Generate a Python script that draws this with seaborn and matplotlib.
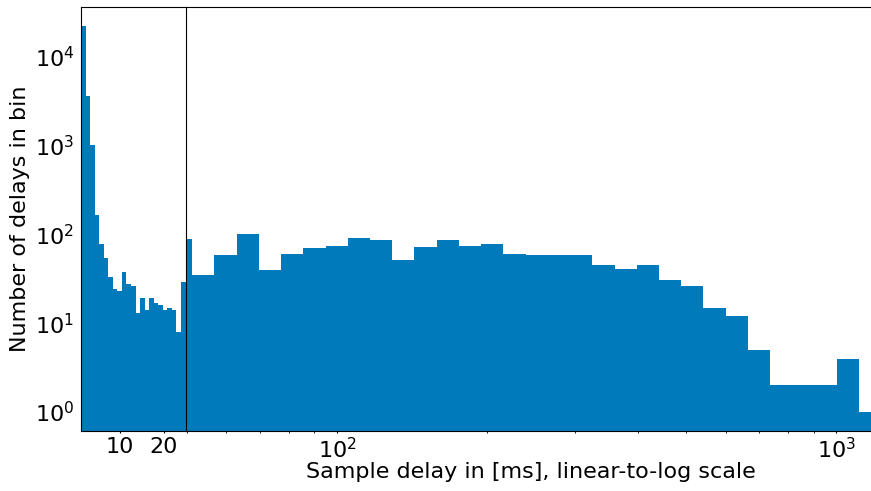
import numpy as np
import pandas as pd
import matplotlib
matplotlib.use("Agg")
import matplotlib.pyplot as plt
import seaborn as sns

# Histogram bin layout: linear ~1 ms bins up to 25 ms, then log-spaced bins
lin_start, lin_stop, lin_nbins = 1.0, 25.0, 23
log_start, log_stop, log_nbins = 25.0, 1230.0, 38
log_first_shown = 6          # log bins below ~46 ms fall outside the log panel

# Counts per bin
lin_counts = [22300, 3640, 1030, 167, 78, 55, 33, 24, 23, 38, 28, 26,
              13, 19, 14, 19, 17, 16, 14, 15, 14, 8, 29]
log_counts = [88, 35, 59, 102, 40, 60, 71, 74, 91, 86, 52, 73, 87, 74,
              78, 60, 59, 58, 58, 45, 41, 45, 31, 26, 15, 12, 5, 2, 2, 2,
              4, 1]

lin_ticks = [10, 20]
lin_xlim = (1.0, 25.0)
log_xlim = (49.7, 1200.0)
ylim = (0.61, 36600)

bar_color = "#007abb"
fs = 16

lin_edges = np.linspace(lin_start, lin_stop, lin_nbins + 1)
log_edges = np.geomspace(log_start, log_stop, log_nbins + 1)[log_first_shown:]
lin_df = pd.DataFrame({
    "delay": 0.5 * (lin_edges[:-1] + lin_edges[1:]),
    "count": lin_counts,
})
log_df = pd.DataFrame({
    "delay": np.sqrt(log_edges[:-1] * log_edges[1:]),
    "count": log_counts,
})

fig = plt.figure(figsize=(8.71, 4.91), dpi=100)
bottom, height = 60 / 491, 424 / 491
ax_lin = fig.add_axes([81 / 871, bottom, 104.5 / 871, height])
ax_log = fig.add_axes([185.5 / 871, bottom, 690.5 / 871, height], sharey=ax_lin)

hist_kws = dict(element="step", fill=True, color=bar_color, alpha=1,
                linewidth=0)
sns.histplot(data=lin_df, x="delay", weights="count", bins=lin_edges.tolist(),
             ax=ax_lin, **hist_kws)
sns.histplot(data=log_df, x="delay", weights="count", bins=log_edges.tolist(),
             ax=ax_log, **hist_kws)

# Linear part
ax_lin.set_yscale("log")
ax_lin.set_ylim(*ylim)
ax_lin.set_xlim(*lin_xlim)
ax_lin.set_xticks(lin_ticks)
ax_lin.set_xticklabels([str(t) for t in lin_ticks])
ax_lin.spines["right"].set_visible(False)
ax_lin.set_ylabel("Number of delays in bin", fontsize=fs, labelpad=3)
ax_lin.set_xlabel("")
ax_lin.tick_params(axis="both", which="major", labelsize=fs, length=1.5, pad=3)
ax_lin.tick_params(axis="y", which="both", length=0, pad=5)

# Logarithmic part
ax_log.set_xscale("log")
ax_log.set_xlim(*log_xlim)
ax_log.spines["right"].set_visible(False)
ax_log.spines["left"].set_color("black")
ax_log.tick_params(axis="y", which="both", left=False, labelleft=False)
ax_log.tick_params(axis="x", which="major", labelsize=fs, length=1.5, pad=3)
ax_log.tick_params(axis="x", which="minor", length=1.2)
ax_log.set_ylabel("")
ax_log.set_xlabel("Sample delay in [ms], linear-to-log scale", fontsize=fs,
                  labelpad=0)

fig.savefig("out.png", dpi=100)
